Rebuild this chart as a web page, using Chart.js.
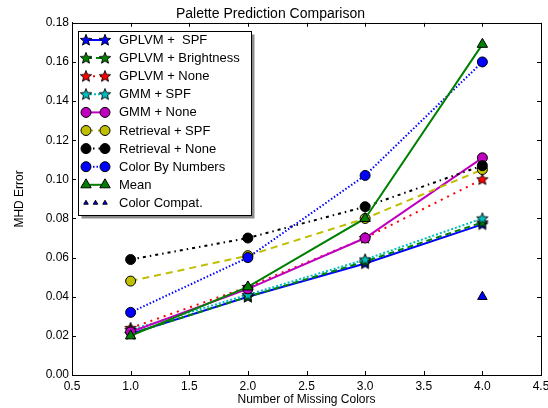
<!DOCTYPE html>
<html>
<head>
<meta charset="utf-8">
<script src="https://cdn.jsdelivr.net/npm/chart.js@4/dist/chart.umd.min.js"></script>
<style>
  html, body { margin: 0; padding: 0; background: #fff; }
  canvas { display: block; }
</style>
</head>
<body>
<canvas id="paletteChart" width="548" height="408"></canvas>
<script>
// data
const missingColors = [1, 2, 3, 4];
const xTicks = [0.5, 1.0, 1.5, 2.0, 2.5, 3.0, 3.5, 4.0, 4.5];
const yTicks = [0.00, 0.02, 0.04, 0.06, 0.08, 0.10, 0.12, 0.14, 0.16, 0.18];

const seriesNames = [
    "GPLVM +  SPF", "GPLVM + Brightness", "GPLVM + None", "GMM + SPF", "GMM + None",
    "Retrieval + SPF", "Retrieval + None", "Color By Numbers", "Mean", "Color Compat."
];
const gplvmSpf = [0.021, 0.040, 0.057, 0.077];
const gplvmBrightness = [0.021, 0.040, 0.058, 0.078];
const gplvmNone = [0.024, 0.045, 0.070, 0.100];
const gmmSpf = [0.023, 0.041, 0.059, 0.080];
const gmmNone = [0.022, 0.044, 0.070, 0.111];
const retrievalSpf = [0.048, 0.061, 0.080, 0.105];
const retrievalNone = [0.059, 0.070, 0.086, 0.107];
const colorByNumbers = [0.032, 0.060, 0.102, 0.160];
const meanError = [0.020, 0.045, 0.080, 0.169];
const colorCompat = [null, null, null, 0.040];

const FONT = "'Liberation Sans', Arial, Helvetica, sans-serif";

// filled five point star (matplotlib '*' marker)
function makeStar(fill) {
    const c = document.createElement("canvas");
    c.width = 14; c.height = 14;
    const g = c.getContext("2d");
    const R = 6, r = 2.6;
    g.beginPath();
    for (let i = 0; i < 10; i++) {
        const rad = i % 2 ? r : R;
        const a = -Math.PI / 2 + i * Math.PI / 5;
        const px = 7 + rad * Math.cos(a), py = 7.3 + rad * Math.sin(a);
        i ? g.lineTo(px, py) : g.moveTo(px, py);
    }
    g.closePath();
    g.fillStyle = fill;
    g.fill();
    g.lineWidth = 0.9;
    g.strokeStyle = "#000";
    g.stroke();
    return c;
}

function series(name, values, color, dash, marker, extra) {
    const isStar = marker === "star";
    return Object.assign({
        label: name,
        data: missingColors.map((x, i) => ({ x: x, y: values[i] })),
        borderColor: color,
        backgroundColor: color,
        borderWidth: 2,
        borderDash: dash,
        pointStyle: isStar ? makeStar(color) : marker,
        pointRadius: marker === "triangle" ? 6 : 5,
        pointBackgroundColor: color,
        pointBorderColor: "#000",
        pointBorderWidth: 1,
        pointHoverRadius: marker === "triangle" ? 6 : 5,
        fill: false,
        tension: 0
    }, extra || {});
}

const datasets = [
    series(seriesNames[0], gplvmSpf, "#0000ff", [], "star"),
    series(seriesNames[1], gplvmBrightness, "#008000", [6, 4], "star"),
    series(seriesNames[2], gplvmNone, "#ff0000", [2, 5], "star"),
    series(seriesNames[3], gmmSpf, "#00bfbf", [2, 2], "star"),
    series(seriesNames[4], gmmNone, "#bf00bf", [], "circle"),
    series(seriesNames[5], retrievalSpf, "#bfbf00", [7, 5], "circle"),
    series(seriesNames[6], retrievalNone, "#000000", [3, 4, 1.5, 4], "circle"),
    series(seriesNames[7], colorByNumbers, "#0000ff", [1.5, 2], "circle"),
    series(seriesNames[8], meanError, "#008000", [], "triangle"),
    series(seriesNames[9], colorCompat, "#0000ff", [], "triangle", { showLine: false, pointRadius: 5.5 })
];
// matplotlib draws later series on top
datasets.forEach((d, i) => { d.order = datasets.length - i; });

const frameAndLegend = {
    id: "frameAndLegend",
    afterDraw(chart) {
        const ctx = chart.ctx;
        const a = chart.chartArea;
        const xs = chart.scales.x, ys = chart.scales.y;
        ctx.save();
        // axes box
        ctx.strokeStyle = "#000";
        ctx.lineWidth = 1;
        ctx.strokeRect(Math.round(a.left) + 0.5, Math.round(a.top) + 0.5,
            Math.round(a.right - a.left), Math.round(a.bottom - a.top));
        // inward ticks on all four sides
        ctx.beginPath();
        xTicks.forEach(v => {
            const px = Math.round(xs.getPixelForValue(v)) + 0.5;
            ctx.moveTo(px, a.bottom); ctx.lineTo(px, a.bottom - 4);
            ctx.moveTo(px, a.top); ctx.lineTo(px, a.top + 4);
        });
        yTicks.forEach(v => {
            const py = Math.round(ys.getPixelForValue(v)) + 0.5;
            ctx.moveTo(a.left, py); ctx.lineTo(a.left + 4, py);
            ctx.moveTo(a.right, py); ctx.lineTo(a.right - 4, py);
        });
        ctx.stroke();

        // legend box, upper left
        const bx = 78.5, by = 31.5, bw = 173, bh = 184;
        ctx.fillStyle = "rgba(0,0,0,0.45)";
        ctx.fillRect(bx + 3, by + 3, bw, bh);
        ctx.fillStyle = "#fff";
        ctx.fillRect(bx, by, bw, bh);
        ctx.strokeStyle = "#000";
        ctx.strokeRect(bx, by, bw, bh);

        ctx.font = "13px " + FONT;
        ctx.textBaseline = "middle";
        chart.data.datasets.forEach((d, i) => {
            const y = 40 + i * 18.1;
            const x1 = 86, x2 = 105;
            if (d.showLine !== false) {
                ctx.beginPath();
                ctx.setLineDash(d.borderDash);
                ctx.lineWidth = d.borderWidth;
                ctx.strokeStyle = d.borderColor;
                ctx.moveTo(x1, y); ctx.lineTo(x2, y);
                ctx.stroke();
                ctx.setLineDash([]);
            }
            ctx.fillStyle = d.pointBackgroundColor;
            ctx.strokeStyle = "#000";
            ctx.lineWidth = 1;
            const small = d.showLine === false;
            const pts = small ? [x1, (x1 + x2) / 2, x2] : [x1, x2];
            pts.forEach(px => {
                Chart.helpers.drawPoint(ctx, {
                    pointStyle: d.pointStyle,
                    radius: small ? 2.6 : d.pointRadius,
                    rotation: 0,
                    borderWidth: small ? 0.6 : 1
                }, px, y);
            });
            ctx.fillStyle = "#000";
            ctx.fillText(d.label, 119, y + 0.5);
        });
        ctx.restore();
    }
};

new Chart(document.getElementById("paletteChart"), {
    type: "line",
    data: { datasets: datasets },
    options: {
        responsive: false,
        animation: false,
        devicePixelRatio: 1,
        layout: { padding: { top: 0, right: 7, bottom: 0, left: 0 } },
        plugins: {
            legend: { display: false },
            tooltip: { enabled: false },
            title: {
                display: true,
                text: "Palette Prediction Comparison",
                color: "#000",
                font: { family: FONT, size: 14, weight: "normal" },
                padding: { top: 6, bottom: 0 }
            }
        },
        scales: {
            x: {
                type: "linear",
                min: 0.5,
                max: 4.5,
                afterBuildTicks: s => { s.ticks = xTicks.map(v => ({ value: v })); },
                ticks: {
                    callback: v => v.toFixed(1),
                    color: "#000",
                    font: { family: FONT, size: 12 },
                    padding: 4,
                    maxRotation: 0,
                    autoSkip: false
                },
                grid: { display: false, drawTicks: false },
                border: { display: true, color: "#000", width: 1 },
                title: {
                    display: true,
                    text: "Number of Missing Colors",
                    color: "#000",
                    font: { family: FONT, size: 12 },
                    padding: { top: 0, bottom: 1 }
                },
                afterFit: s => { s.height = 33; s.paddingLeft = 0; s.paddingRight = 0; }
            },
            y: {
                min: 0,
                max: 0.18,
                afterBuildTicks: s => { s.ticks = yTicks.map(v => ({ value: v })); },
                ticks: {
                    callback: v => v.toFixed(2),
                    color: "#000",
                    font: { family: FONT, size: 12 },
                    padding: 3,
                    autoSkip: false
                },
                grid: { display: false, drawTicks: false },
                border: { display: true, color: "#000", width: 1 },
                title: {
                    display: true,
                    text: "MHD Error",
                    color: "#000",
                    font: { family: FONT, size: 12 },
                    padding: { top: 12, bottom: 0 }
                },
                afterFit: s => { s.width = 72; s.paddingTop = 0; s.paddingBottom = 0; }
            }
        }
    },
    plugins: [frameAndLegend]
});
</script>
</body>
</html>
